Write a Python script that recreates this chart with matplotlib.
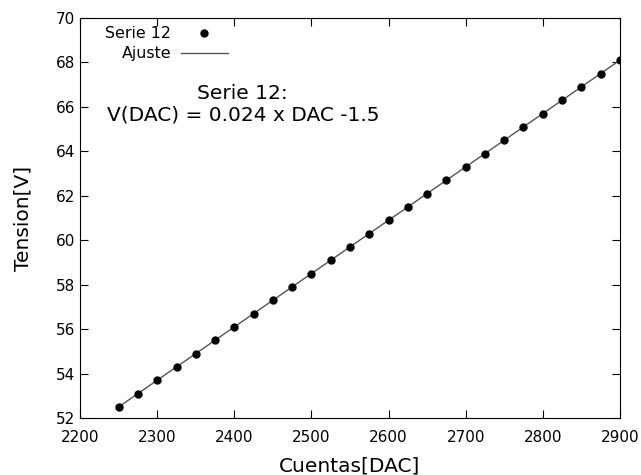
import matplotlib
matplotlib.use('Agg')
import matplotlib.pyplot as plt
import numpy as np

# datos serie 12
dac = [2250, 2275, 2300, 2325, 2350, 2375, 2400, 2425, 2450, 2475,
       2500, 2525, 2550, 2575, 2600, 2625, 2650, 2675, 2700, 2725,
       2750, 2775, 2800, 2825, 2850, 2875, 2900]
tension = [52.5, 53.1, 53.7, 54.3, 54.9, 55.5, 56.1, 56.7, 57.3, 57.9,
           58.5, 59.1, 59.7, 60.3, 60.9, 61.5, 62.1, 62.7, 63.3, 63.9,
           64.5, 65.1, 65.7, 66.3, 66.9, 67.5, 68.1]
pendiente = 0.024
ordenada = -1.5

fig = plt.figure(figsize=(6.41, 4.75), dpi=100)
ax = fig.add_axes([0.125, 0.12, 0.842, 0.842])

x_fit = np.array([dac[0], dac[-1]])
ax.plot(dac, tension, 'o', color='black', markersize=5, label='Serie 12', zorder=3)
ax.plot(x_fit, pendiente * x_fit + ordenada, '-', color='#555555', linewidth=1,
        label='Ajuste')

ax.set_xlim(2200, 2900)
ax.set_ylim(52, 70)
ax.set_xticks(np.arange(2200, 2901, 100))
ax.set_yticks(np.arange(52, 71, 2))
ax.tick_params(direction='in', top=True, right=True, length=6, labelsize=11)
ax.tick_params(axis='x', pad=9)
ax.set_xlabel('Cuentas[DAC]', fontsize=14.5, labelpad=8)
ax.set_ylabel('Tension[V]', fontsize=14.5, labelpad=17)

ax.text(2411, 66.13, 'Serie 12:\nV(DAC) = 0.024 x DAC -1.5', fontsize=14.5,
        ha='center', va='center', multialignment='center')

ax.legend(loc='upper left', bbox_to_anchor=(0.02, 1.015), frameon=False,
          markerfirst=False, fontsize=11.4, handlelength=3.0,
          labelspacing=0.3, handletextpad=0.6)

fig.savefig('out.png', dpi=100)
